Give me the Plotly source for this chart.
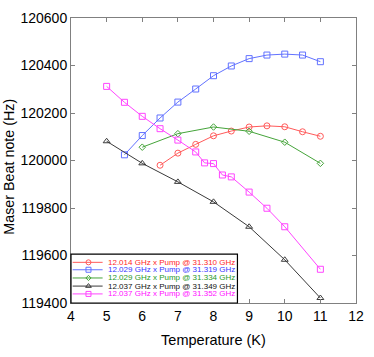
"""
Maser beat note vs temperature for several pump settings.
"""

import plotly.graph_objects as go

# Data
RED_T = [6.5, 7.0, 7.5, 8.0, 8.5, 9.0, 9.5, 10.0, 10.5, 11.0]
RED_F = [119980, 120031, 120068, 120104, 120124, 120141, 120146, 120142, 120121, 120102]

BLUE_T = [5.5, 6.0, 6.5, 7.0, 7.5, 8.0, 8.5, 9.0, 9.5, 10.0, 10.5, 11.0]
BLUE_F = [120024, 120105, 120179, 120246, 120301, 120357, 120398, 120429, 120444, 120448, 120444, 120416]

GREEN_T = [6.0, 7.0, 8.0, 9.0, 10.0, 11.0]
GREEN_F = [120056, 120113, 120141, 120123, 120077, 119988]

BLACK_T = [5.0, 6.0, 7.0, 8.0, 9.0, 10.0, 11.0]
BLACK_F = [120081, 119988, 119910, 119826, 119721, 119582, 119421]

MAGENTA_T = [5.0, 5.5, 6.0, 6.5, 7.0, 7.5, 7.75, 8.0, 8.25, 8.5, 9.0, 9.5, 10.0, 11.0]
MAGENTA_F = [120312, 120245, 120186, 120134, 120086, 120036, 119990, 119987, 119939, 119931, 119867, 119799, 119721, 119542]

LABELS = [
    "12.014 GHz x Pump @ 31.310 GHz",
    "12.029 GHz x Pump @ 31.319 GHz",
    "12.029 GHz x Pump @ 31.334 GHz",
    "12.037 GHz x Pump @ 31.349 GHz",
    "12.037 GHz x Pump @ 31.352 GHz",
]

X_TICKS = [4, 5, 6, 7, 8, 9, 10, 11, 12]
Y_TICKS = [119400, 119600, 119800, 120000, 120200, 120400, 120600]

FONT = "Liberation Sans, Arial, sans-serif"

series = [
    (RED_T, RED_F, "#ff5a5a", "#ff1f1f", "circle-open", 6),
    (BLUE_T, BLUE_F, "#6272ff", "#3737ff", "square-open", 6),
    (GREEN_T, GREEN_F, "#45a43a", "#1f9a1f", "diamond-open", 5),
    (BLACK_T, BLACK_F, "#3a3a3a", "#111111", "triangle-up-open", 6),
    (MAGENTA_T, MAGENTA_F, "#ff45ff", "#ff10ff", "square-open", 6),
]

fig = go.Figure()

for (t, f, line_col, _, sym, size), name in zip(series, LABELS):
    fig.add_trace(go.Scatter(
        x=t, y=f, mode="lines+markers", name=name, showlegend=False,
        line=dict(color=line_col, width=1),
        marker=dict(symbol=sym, size=size, color=line_col, line=dict(width=1, color=line_col)),
    ))

# hand-made compact legend in its own little axis box
row_y = [0.832, 0.68, 0.512, 0.346, 0.186]
for (t, f, line_col, text_col, sym, size), name, ry in zip(series, LABELS, row_y):
    fig.add_trace(go.Scatter(
        x=[0.01, 0.19], y=[ry, ry], mode="lines", showlegend=False, hoverinfo="skip",
        line=dict(color=line_col, width=1), xaxis="x2", yaxis="y2",
    ))
    fig.add_trace(go.Scatter(
        x=[0.105], y=[ry], mode="markers", showlegend=False, hoverinfo="skip",
        marker=dict(symbol=sym, size=size - 1, color=line_col, line=dict(width=1, color=line_col)),
        xaxis="x2", yaxis="y2",
    ))
    fig.add_annotation(
        x=0.215, y=ry, xref="x2", yref="y2", text=name, showarrow=False,
        xanchor="left", yanchor="middle", borderpad=0,
        font=dict(family=FONT, size=8, color=text_col),
    )

fig.add_shape(type="rect", xref="paper", yref="paper", x0=0, x1=0.584, y0=0, y1=0.1715,
              line=dict(color="black", width=1.2), layer="above")

# y title placed by hand so it sits where the reference has it
fig.add_annotation(
    x=-0.217, y=0.479, xref="paper", yref="paper", text="Maser Beat note (Hz)",
    textangle=-90, showarrow=False, xanchor="center", yanchor="middle",
    font=dict(family=FONT, size=14.3, color="black"),
)

axis_common = dict(
    showgrid=False, zeroline=False, showline=True, linecolor="#808080", linewidth=1,
    mirror="ticks", ticks="inside", ticklen=4, tickcolor="#808080",
    tickfont=dict(family=FONT, size=14, color="black"), ticklabeloverflow="allow",
)

fig.update_layout(
    width=374, height=357,
    margin=dict(l=71, r=10, t=12, b=54),
    paper_bgcolor="white", plot_bgcolor="white",
    font=dict(family=FONT, color="black"),
    xaxis=dict(
        range=[4, 12], tickvals=X_TICKS, domain=[0, 1],
        title=dict(text="Temperature (K)", font=dict(family=FONT, size=14.5), standoff=12),
        **axis_common,
    ),
    yaxis=dict(
        range=[119400, 120600], tickvals=Y_TICKS, tickformat="d", domain=[0, 1],
        **axis_common,
    ),
    xaxis2=dict(domain=[0, 0.584], range=[0, 1], visible=False, anchor="y2"),
    yaxis2=dict(domain=[0, 0.1715], range=[0, 1], visible=False, anchor="x2"),
    showlegend=False,
)

# drop the browser's default body margin so the figure fills the window
fig.write_html(
    "out.html",
    config={"displayModeBar": False},
    post_script="document.body.style.margin = '0';",
)
